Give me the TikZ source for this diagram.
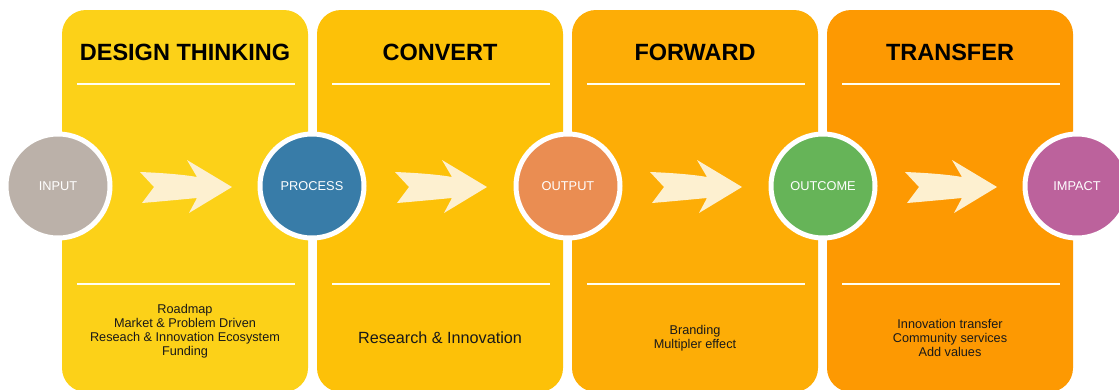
\documentclass[tikz,border=0pt]{standalone}
\usepackage{fontspec}
\setmainfont{Liberation Sans}
\definecolor{pone}{RGB}{252,209,24}
\definecolor{ptwo}{RGB}{253,193,8}
\definecolor{pthree}{RGB}{253,173,6}
\definecolor{pfour}{RGB}{253,153,2}
\definecolor{cinput}{RGB}{187,177,169}
\definecolor{cprocess}{RGB}{56,124,168}
\definecolor{coutput}{RGB}{234,141,82}
\definecolor{coutcome}{RGB}{102,180,88}
\definecolor{cimpact}{RGB}{188,98,156}
\definecolor{arrowfill}{RGB}{253,240,208}
\tikzset{
  panel/.style={rounded corners=24pt, draw=none},
  divider/.style={draw=white!95!yellow, line width=1.6pt},
  header/.style={font=\fontsize{23.5}{26}\selectfont\bfseries, text=black},
  stage/.style={circle, draw=white, line width=5pt, minimum size=104pt, inner sep=0pt,
    text=white, font=\fontsize{12.8}{14}\selectfont},
  bodytext/.style={align=center, text=black!90, font=\fontsize{12.7}{14}\selectfont},
  fwdarrow/.pic={
    \fill[arrowfill] (-46,-15) .. controls (-20,-14) and (0,-12) .. (11,-10)
      -- (1,-27) -- (46,0) -- (3,26) -- (11,11)
      .. controls (0,12) and (-20,14) .. (-44,16) -- (-32,0) -- cycle;
  }
}
\begin{document}
\begin{tikzpicture}[x=1pt,y=-1pt]
\useasboundingbox (0,0) rectangle (1119,389);
\clip (0,0) rectangle (1119,389);
\fill[white] (0,0) rectangle (1119,389);
% panels
\fill[panel, pone]   (62,10)  rectangle (308,392);
\fill[panel, ptwo]   (317,10) rectangle (563,392);
\fill[panel, pthree] (572,10) rectangle (818,392);
\fill[panel, pfour]  (827,10) rectangle (1073,392);
% headers
\node[header] (h1) at (185,52) {DESIGN THINKING};
\node[header] (h2) at (440,52) {CONVERT};
\node[header] (h3) at (695,52) {FORWARD};
\node[header] (h4) at (950,52) {TRANSFER};
% dividers
\foreach \c in {185,440,695,950}{
  \draw[divider] (\c-108,84) -- (\c+110,84);
  \draw[divider] (\c-108,284) -- (\c+110,284);
}
% arrows
\pic at (186,187) {fwdarrow};
\pic at (441,187) {fwdarrow};
\pic at (696,187) {fwdarrow};
\pic at (951,187) {fwdarrow};
% stages
\node[stage, fill=cinput]   (input)   at (58,186)   {INPUT};
\node[stage, fill=cprocess] (process) at (312,186)  {PROCESS};
\node[stage, fill=coutput]  (output)  at (568,186)  {OUTPUT};
\node[stage, fill=coutcome] (outcome) at (823,186)  {OUTCOME};
\node[stage, fill=cimpact]  (impact)  at (1077,186) {IMPACT};
% bottom texts
\node[bodytext] (t1) at (185,331) {Roadmap\\Market \& Problem Driven\\Reseach \& Innovation Ecosystem\\Funding};
\node[bodytext, font=\fontsize{16.2}{18}\selectfont] (t2) at (440,338) {Research \& Innovation};
\node[bodytext] (t3) at (695,338) {Branding\\Multipler effect};
\node[bodytext] (t4) at (950,338) {Innovation transfer\\Community services\\Add values};
\end{tikzpicture}
\end{document}
